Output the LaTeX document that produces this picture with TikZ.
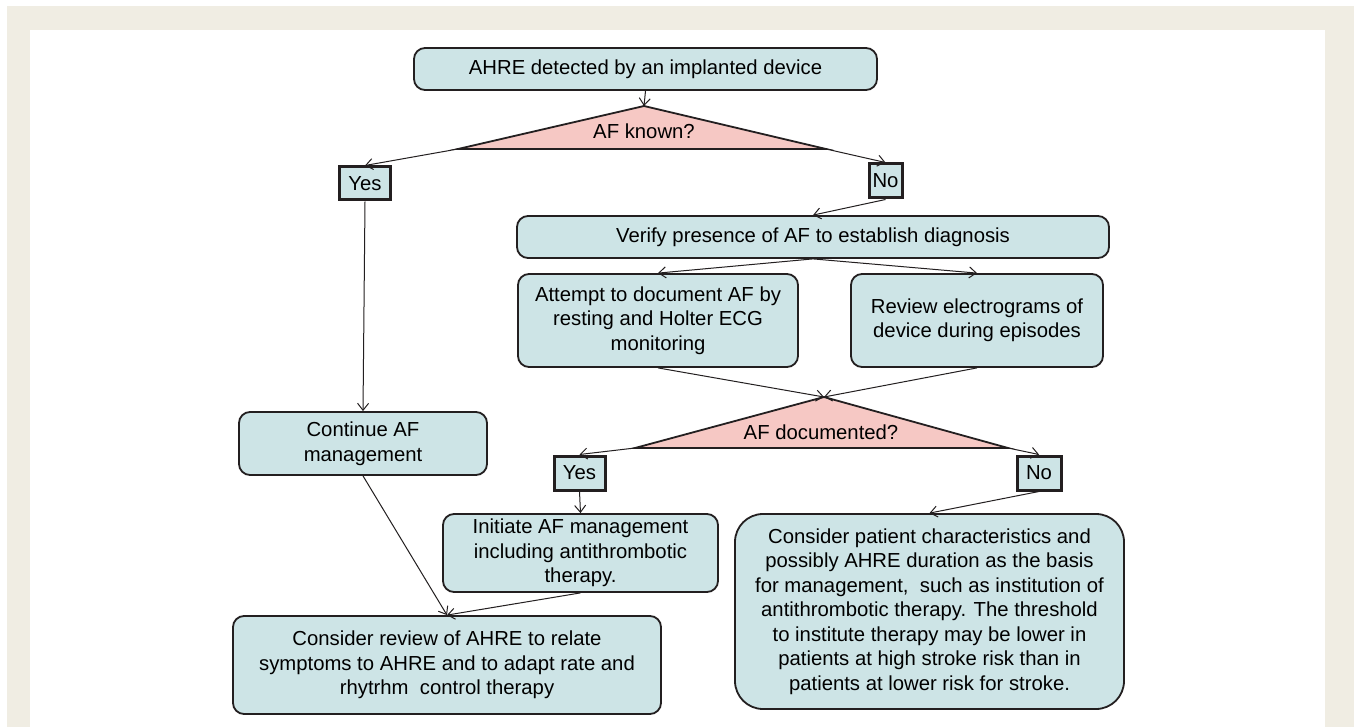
\documentclass[tikz,border=0pt]{standalone}
\usepackage{fontspec}
\setmainfont{Liberation Sans}
\usetikzlibrary{arrows.meta}
\definecolor{boxfill}{RGB}{205,228,230}
\definecolor{askfill}{RGB}{246,200,196}
\definecolor{framefill}{RGB}{240,237,227}
\definecolor{ink}{RGB}{35,31,32}
\newcommand{\flowfont}{\fontsize{20.3}{24.5}\selectfont}
\tikzset{
  box/.style = {draw=ink, fill=boxfill, rounded corners=11pt, line width=1.8pt,
                align=center, inner sep=2pt, minimum width=#1},
  box/.default = 100pt,
  answer/.style = {draw=ink, fill=boxfill, line width=3pt, inner sep=0pt},
  flow/.style = {draw=ink, line width=1pt, -{Straight Barb[length=7pt,width=11pt]}},
  ask/.style = {fill=askfill, draw=ink, line width=1.8pt}
}
\begin{document}
\begin{tikzpicture}[x=1pt, y=-1pt, font=\flowfont]
	\useasboundingbox (0,0) rectangle (1354,727);

	% Frame
	\fill[framefill] (7,6) rectangle (1354,727);
	\fill[white] (30,30) rectangle (1325,727);

	% Questions
	\coordinate (known-top) at (644,106);
	\coordinate (known-l) at (458,149);
	\coordinate (known-r) at (826,149);
	\filldraw[ask] (known-top) -- (known-r) -- (known-l) -- cycle;
	\node (known) at (644,131) {AF known?};

	\coordinate (docu-top) at (824,397);
	\coordinate (docu-l) at (635,448);
	\coordinate (docu-r) at (1008,448);
	\filldraw[ask] (docu-top) -- (docu-r) -- (docu-l) -- cycle;
	\node (docu) at (821,432) {AF documented?};

	% Boxes
	\node[box=463pt, minimum height=42pt] (detect) at (645.5,69) {AHRE detected by an implanted device};
	\node[box=592pt, minimum height=42pt] (verify) at (813,237) {Verify presence of AF to establish diagnosis};
	\node[box=280pt, minimum height=93pt] (attempt) at (658,320.5) {Attempt to document AF by\\resting and Holter ECG\\monitoring};
	\node[box=252pt, minimum height=93pt] (review) at (977,320.5) {Review electrograms of\\device during episodes};
	\node[box=248pt, minimum height=63pt] (continue) at (363,443.5) {Continue AF\\management};
	\node[box=275pt, minimum height=78pt] (initiate) at (580.5,553) {Initiate AF management\\including antithrombotic\\therapy.};
	\node[box=428pt, minimum height=98pt] (relate) at (447,665) {Consider review of AHRE to relate\\symptoms to AHRE and to adapt rate and\\rhytrhm~ control therapy};
	\node[box=389pt, minimum height=195pt, rounded corners=28pt] (patient) at (929.5,611.5) {Consider patient characteristics and\\possibly AHRE duration as the basis\\for management,~ such as institution of\\antithrombotic therapy. The threshold\\to institute therapy may be lower in\\patients at high stroke risk than in\\patients at lower risk for stroke.};

	% Answers
	\node[answer, minimum width=51pt, minimum height=33pt] (yes1) at (365,183.5) {Yes};
	\node[answer, minimum width=33pt, minimum height=34pt] (no1) at (885.5,181) {No};
	\node[answer, minimum width=51pt, minimum height=34pt] (yes2) at (579.5,473) {Yes};
	\node[answer, minimum width=44pt, minimum height=34pt] (no2) at (1039,473) {No};

	% Arrows
	\draw[flow] (detect.south) -- (known-top);
	\draw[flow] (known-l) -- (yes1.north);
	\draw[flow] (known-r) -- (no1.north);
	\draw[flow] (no1.south) -- (verify.north);
	\draw[flow] (verify.south) -- (attempt.north);
	\draw[flow] (verify.south) -- (review.north);
	\draw[flow] (attempt.south) -- (docu-top);
	\draw[flow] (review.south) -- (docu-top);
	\draw[flow] (docu-l) -- (yes2.north);
	\draw[flow] (docu-r) -- (no2.north);
	\draw[flow] (yes1.south) -- (continue.north);
	\draw[flow] (yes2.south) -- (initiate.north);
	\draw[flow] (continue.south) -- (relate.north);
	\draw[flow] (initiate.south) -- (relate.north);
	\draw[flow] (no2.south) -- (patient.north);
\end{tikzpicture}
\end{document}
